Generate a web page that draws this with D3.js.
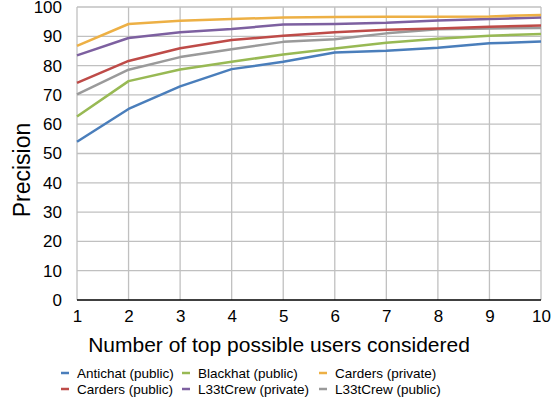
<!DOCTYPE html>
<html><head><meta charset="utf-8">
<script src="https://cdn.jsdelivr.net/npm/d3@7"></script>
<style>body{margin:0;background:#fff}svg{display:block}text{font-family:"Liberation Sans",Arial,sans-serif;fill:#000}</style>
</head><body>
<script>
const xValues = [1,2,3,4,5,6,7,8,9,10];
const yTicks = [0,10,20,30,40,50,60,70,80,90,100];
const seriesNames = ["Antichat (public)","Blackhat (public)","Carders (private)","Carders (public)","L33tCrew (private)","L33tCrew (public)"];
const seriesColors = ["#4A7EBB","#98B954","#EDB045","#BE4B48","#7D60A0","#9A9A9A"];
const antichatPublic = [54.0,65.2,72.9,78.8,81.3,84.5,85.1,86.1,87.6,88.2];
const blackhatPublic = [62.6,74.7,78.7,81.3,83.8,85.8,87.8,89.2,90.2,90.8];
const cardersPrivate = [86.7,94.2,95.3,95.9,96.4,96.6,96.7,96.7,96.8,97.3];
const cardersPublic = [74.1,81.6,85.9,88.7,90.2,91.4,92.2,92.7,93.3,93.7];
const l33tCrewPrivate = [83.5,89.4,91.4,92.5,94.0,94.2,94.6,95.4,95.9,96.4];
const l33tCrewPublic = [70.2,78.6,82.9,85.6,88.1,89.0,91.0,92.4,92.7,92.8];
const seriesValues = [antichatPublic,blackhatPublic,cardersPrivate,cardersPublic,l33tCrewPrivate,l33tCrewPublic];
const drawOrder = [0,1,5,3,4,2];

const W=557,H=400;
const svg=d3.select("body").append("svg").attr("width",W).attr("height",H);
const x=d3.scaleLinear().domain([1,10]).range([77,541]);
const y=d3.scaleLinear().domain([0,100]).range([300,7]);

const g=svg.append("g");
g.selectAll(".hg").data(yTicks.filter(d=>d>0)).join("line")
  .attr("x1",x(1)).attr("x2",x(10)).attr("y1",d=>y(d)).attr("y2",d=>y(d))
  .attr("stroke","#C0C0C0").attr("stroke-width",1.3);
g.selectAll(".vg").data(xValues).join("line")
  .attr("x1",d=>x(d)).attr("x2",d=>x(d)).attr("y1",y(0)).attr("y2",y(100))
  .attr("stroke","#C0C0C0").attr("stroke-width",1.3);

const yAxis=d3.axisLeft(y).tickValues(yTicks).tickSize(0).tickPadding(15);
const ya=svg.append("g").attr("transform",`translate(${x(1)},0)`).call(yAxis);
ya.select(".domain").remove();
ya.selectAll("text").attr("font-size",17).attr("font-family","Liberation Sans, Arial, sans-serif").attr("fill","#000");
const xAxis=d3.axisBottom(x).tickValues(xValues).tickSize(0).tickPadding(10).tickFormat(d3.format("d"));
const xa=svg.append("g").attr("transform",`translate(0,${y(0)})`).call(xAxis);
xa.select(".domain").remove();
xa.selectAll("text").attr("font-size",17).attr("font-family","Liberation Sans, Arial, sans-serif").attr("fill","#000");
svg.append("line").attr("x1",x(1)).attr("x2",x(10)).attr("y1",y(0)).attr("y2",y(0)).attr("stroke","#000").attr("stroke-width",1.5);

const line=d3.line().x((d,i)=>x(xValues[i])).y(d=>y(d));
drawOrder.forEach(k=>{
  svg.append("path").datum(seriesValues[k]).attr("d",line)
    .attr("fill","none").attr("stroke",seriesColors[k]).attr("stroke-width",2.5)
    .attr("stroke-linejoin","round");
});

svg.append("text").attr("x",279).attr("y",352).attr("text-anchor","middle").attr("font-size",21).text("Number of top possible users considered");
svg.append("text").attr("transform","translate(30,170) rotate(-90)").attr("text-anchor","middle").attr("font-size",23).text("Precision");

const colX=[61,182,319], rowY=[373,389];
seriesNames.forEach((name,i)=>{
  const cx=colX[i%3], cy=rowY[Math.floor(i/3)];
  svg.append("line").attr("x1",cx).attr("x2",cx+8).attr("y1",cy).attr("y2",cy)
    .attr("stroke",seriesColors[i]).attr("stroke-width",2.5);
  svg.append("text").attr("x",cx+16).attr("y",cy+5).attr("font-size",13.5).text(name);
});
</script>
</body></html>
